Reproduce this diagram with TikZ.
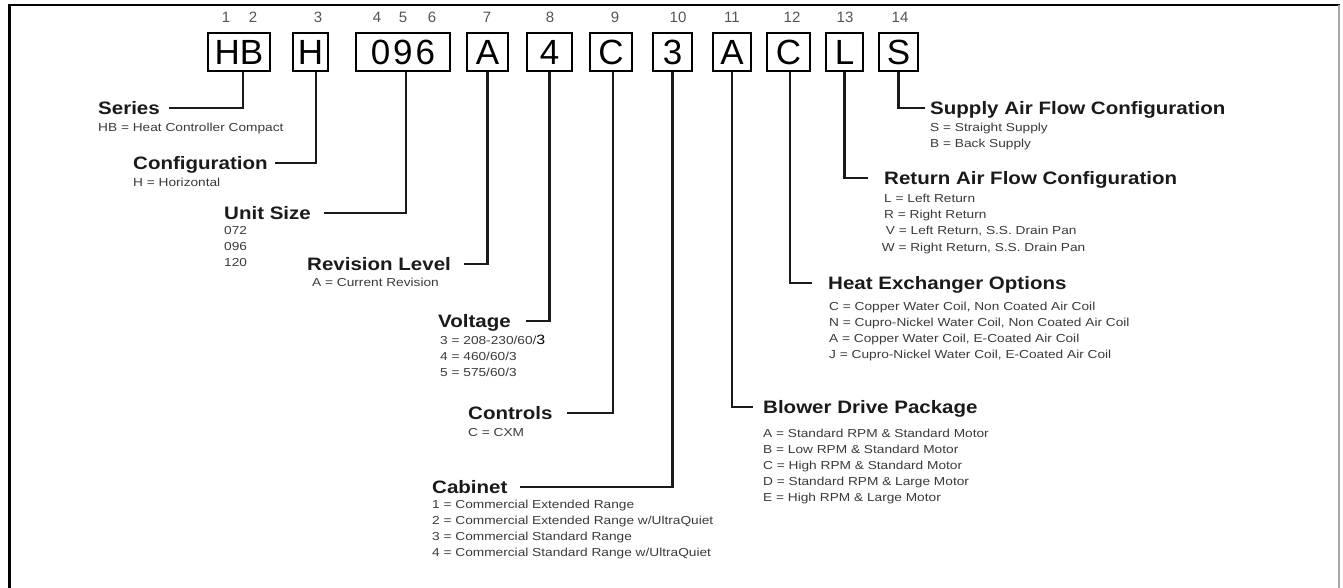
\documentclass[tikz,border=0pt]{standalone}
\usepackage{fontspec}
\setmainfont{Liberation Sans}
\usepackage{graphicx}
\definecolor{ink}{HTML}{1A1A1A}
\definecolor{subink}{HTML}{3A3A3A}
\definecolor{numink}{HTML}{555555}
\newcommand{\hdtxt}[1]{\scalebox{1.14}[1]{\fontsize{18}{20}\selectfont\bfseries #1}}
\newcommand{\subtxt}[1]{\scalebox{1.18}[1]{\fontsize{11.6}{16}\selectfont\begin{tabular}[t]{@{}l@{}}#1\end{tabular}}}
\tikzset{
  codebox/.style={draw=black, line width=1.6pt, inner sep=0pt, minimum height=38pt,
    font=\fontsize{35}{38}\selectfont, text=black},
  posnum/.style={inner sep=0pt, text=numink, font=\fontsize{15}{16}\selectfont},
  heading/.style={inner sep=0pt, anchor=west, text=ink, text height=12.9pt, text depth=0pt},
  subline/.style={inner sep=0pt, anchor=base west, text=subink},
  conn/.style={draw=ink, line width=2.2pt},
}
\begin{document}
\begin{tikzpicture}[x=1pt,y=-1pt]
\useasboundingbox (0,0) rectangle (1343,588);
% frame
\draw[black, line width=2.6pt] (9.5,588) -- (9.5,5) -- (1340,5);
\draw[black!35, line width=2pt] (1339,5) -- (1339,588);
% code boxes
\node[codebox, minimum width=62pt] (hb) at (239,52) {HB};
\node[codebox, minimum width=35pt] (h) at (310.5,52) {H};
\node[codebox, minimum width=94pt] (size) at (403,52) {0\kern3pt9\kern3pt6};
\node[codebox, minimum width=41pt] (rev) at (487.5,52) {A};
\node[codebox, minimum width=45pt] (volt) at (549.5,52) {4};
\node[codebox, minimum width=42pt] (ctrl) at (611,52) {C};
\node[codebox, minimum width=39pt] (cab) at (672.5,52) {3};
\node[codebox, minimum width=38pt] (blow) at (732,52) {A};
\node[codebox, minimum width=43pt] (hx) at (788.5,52) {C};
\node[codebox, minimum width=37pt] (ret) at (844.5,52) {L};
\node[codebox, minimum width=39pt] (sup) at (898.5,52) {S};
% position numbers
\node[posnum] (n1) at (226,17) {1};
\node[posnum] (n2) at (253,17) {2};
\node[posnum] (n3) at (318,17) {3};
\node[posnum] (n4) at (377,17) {4};
\node[posnum] (n5) at (403,17) {5};
\node[posnum] (n6) at (432,17) {6};
\node[posnum] (n7) at (487,17) {7};
\node[posnum] (n8) at (550,17) {8};
\node[posnum] (n9) at (615,17) {9};
\node[posnum] (n10) at (678,17) {10};
\node[posnum] (n11) at (732,17) {11};
\node[posnum] (n12) at (792,17) {12};
\node[posnum] (n13) at (845,17) {13};
\node[posnum] (n14) at (900,17) {14};
% headings
\node[heading] (series) at (98,108) {\hdtxt{Series}};
\node[heading] (config) at (133,163) {\hdtxt{Configuration}};
\node[heading] (unit) at (224,213) {\hdtxt{Unit Size}};
\node[heading] (revl) at (307,264) {\hdtxt{Revision Level}};
\node[heading] (voltage) at (438,321) {\hdtxt{Voltage}};
\node[heading] (controls) at (468,413) {\hdtxt{Controls}};
\node[heading] (cabinet) at (432,487) {\hdtxt{Cabinet}};
\node[heading] (blower) at (763,407) {\hdtxt{Blower Drive Package}};
\node[heading] (heatx) at (828,283) {\hdtxt{Heat Exchanger Options}};
\node[heading] (return) at (884,178) {\hdtxt{Return Air Flow Configuration}};
\node[heading] (supply) at (930,108) {\hdtxt{Supply Air Flow Configuration}};
% option lists
\node[subline] (seriesopt) at (98,132) {\subtxt{HB = Heat Controller Compact}};
\node[subline] (configopt) at (133,186) {\subtxt{H = Horizontal}};
\node[subline] (unitopt) at (224,234) {\subtxt{072\\096\\120}};
\node[subline] (revopt) at (312,286) {\subtxt{A = Current Revision}};
\node[subline] (voltopt) at (440,344) {\subtxt{3 = 208-230/60/{\color{black}\fontsize{13.5}{16}\selectfont 3}\\4 = 460/60/3\\5 = 575/60/3}};
\node[subline] (ctrlopt) at (468,436) {\subtxt{C = CXM}};
\node[subline] (cabopt) at (432,508) {\subtxt{1 = Commercial Extended Range\\2 = Commercial Extended Range w/UltraQuiet\\3 = Commercial Standard Range\\4 = Commercial Standard Range w/UltraQuiet}};
\node[subline] (blowopt) at (763,437) {\subtxt{A = Standard RPM \& Standard Motor\\B = Low RPM \& Standard Motor\\C = High RPM \& Standard Motor\\D = Standard RPM \& Large Motor\\E = High RPM \& Large Motor}};
\node[subline] (hxopt) at (829,310) {\subtxt{C = Copper Water Coil, Non Coated Air Coil\\N = Cupro-Nickel Water Coil, Non Coated Air Coil\\A = Copper Water Coil, E-Coated Air Coil\\J = Cupro-Nickel Water Coil, E-Coated Air Coil}};
\node[subline] (retopt) at (884,203) {\subtxt{L = Left Return\\R = Right Return\\\kern1.5pt V = Left Return, S.S. Drain Pan\\\kern-2pt W = Right Return, S.S. Drain Pan}};
\node[subline] (supopt) at (930,132) {\subtxt{S = Straight Supply\\B = Back Supply}};
% connectors
\draw[conn] ([xshift=4pt]hb.south) |- ([xshift=9pt]series.east);
\draw[conn] ([xshift=5.5pt]h.south) |- ([xshift=7pt]config.east);
\draw[conn] ([xshift=3pt]size.south) |- ([xshift=13pt]unit.east);
\draw[conn] (rev.south) |- ([xshift=13pt]revl.east);
\draw[conn] (volt.south) |- ([xshift=15pt]voltage.east);
\draw[conn] ([xshift=2pt]ctrl.south) |- ([xshift=14pt]controls.east);
\draw[conn] (cab.south) |- ([xshift=12pt]cabinet.east);
\draw[conn] (blow.south) |- ([xshift=-10pt]blower.west);
\draw[conn] ([xshift=1.5pt]hx.south) |- ([xshift=-16pt]heatx.west);
\draw[conn] (ret.south) |- ([xshift=-16pt]return.west);
\draw[conn] (sup.south) |- ([xshift=-5pt]supply.west);
\end{tikzpicture}
\end{document}
